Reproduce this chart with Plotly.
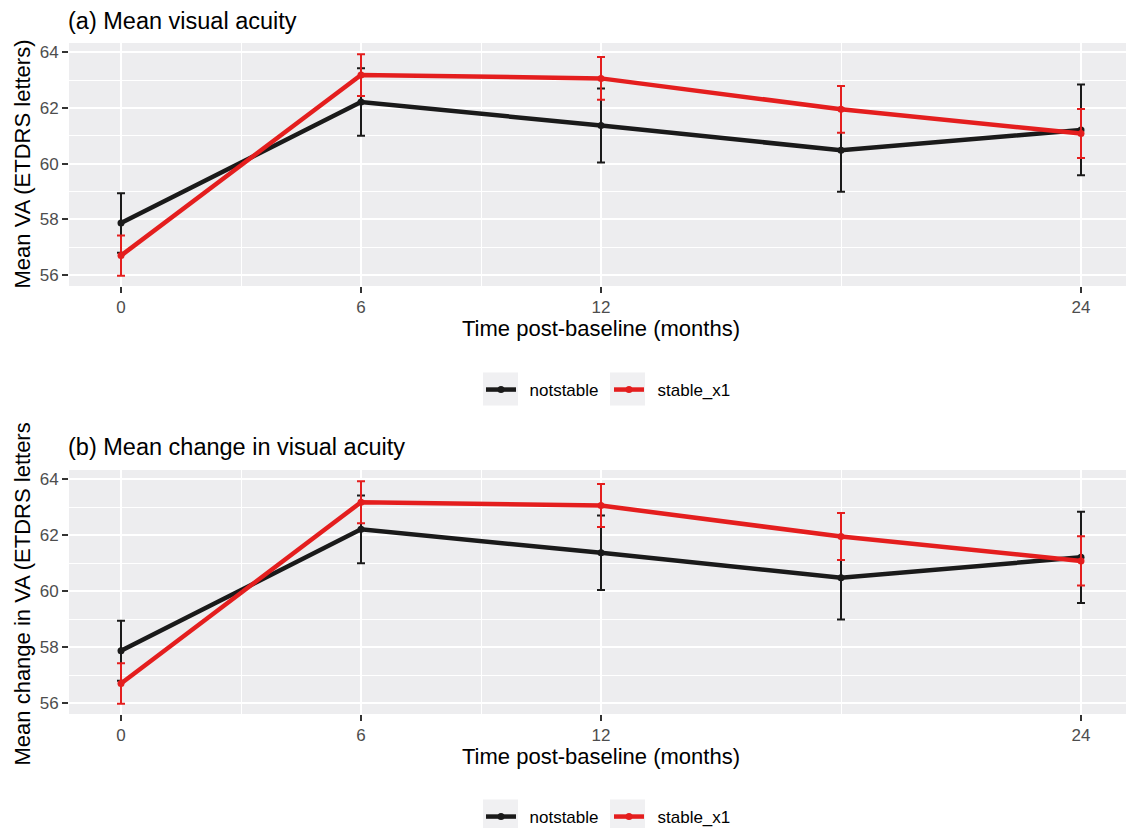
import plotly.graph_objects as go

# ---- data ----
months = [0, 6, 12, 18, 24]
notstable_mean = [57.87, 62.21, 61.37, 60.48, 61.21]
notstable_err = [1.07, 1.21, 1.33, 1.49, 1.63]
stable_mean = [56.70, 63.18, 63.06, 61.95, 61.08]
stable_err = [0.72, 0.75, 0.77, 0.84, 0.88]
series_names = ["notstable", "stable_x1"]
x_tick_vals = [0, 6, 12, 24]
x_minor_vals = [3, 9, 18]
y_tick_vals = [56, 58, 60, 62, 64]
y_minor_vals = [57, 59, 61, 63]
panel_titles = ["(a) Mean visual acuity", "(b) Mean change in visual acuity"]
y_titles = ["Mean VA (ETDRS letters)", "Mean change in VA (ETDRS letters"]
x_title = "Time post-baseline (months)"

W, H = 1126, 828
FONT = "Liberation Sans, Arial, Helvetica, sans-serif"
BLACK = "#1a1a1a"
RED = "#e41e1e"
PANEL_BG = "#ededef"

def px_x(p):
    return p / W

def px_y(p):
    return 1 - p / H

fig = go.Figure()

colors = [BLACK, RED]
means = [notstable_mean, stable_mean]
errs = [notstable_err, stable_err]

for panel in range(2):
    xa = "x" if panel == 0 else "x2"
    ya = "y" if panel == 0 else "y2"
    lg = "legend" if panel == 0 else "legend2"
    for name, col, m, e in zip(series_names, colors, means, errs):
        fig.add_trace(go.Scatter(
            x=months, y=m, name="\u2002" + name, mode="lines+markers",
            line=dict(color=col, width=4.5),
            marker=dict(color=col, size=7),
            error_y=dict(type="data", array=e, visible=True, color=col,
                         thickness=2, width=4),
            xaxis=xa, yaxis=ya, legend=lg, cliponaxis=False,
        ))

xdomain = [px_x(69), 1.0]
ydomains = [[px_y(286), px_y(43)], [px_y(714), px_y(470)]]

axis_common = dict(
    showline=False, zeroline=False,
    ticks="outside", ticklen=6, tickwidth=1.5, tickcolor="#333333",
    tickfont=dict(family=FONT, size=17, color="#4d4d4d"),
    showgrid=True, gridcolor="white", gridwidth=2,
)

layout = dict(
    width=W, height=H,
    margin=dict(l=0, r=0, t=0, b=0, autoexpand=False),
    paper_bgcolor="white", plot_bgcolor=PANEL_BG,
    font=dict(family=FONT, color="black"),
    showlegend=True,
)

for panel in range(2):
    sfx = "" if panel == 0 else "2"
    layout["xaxis" + sfx] = dict(
        axis_common, domain=xdomain, range=[-1.3, 25.125],
        tickmode="array", tickvals=x_tick_vals,
        ticktext=[str(v) for v in x_tick_vals],
        minor=dict(tickmode="array", tickvals=x_minor_vals, showgrid=True,
                   gridcolor="white", gridwidth=1, ticks=""),
        anchor="y" + sfx,
    )
    layout["yaxis" + sfx] = dict(
        axis_common, domain=ydomains[panel], range=[55.61, 64.33],
        tickmode="array", tickvals=y_tick_vals,
        ticktext=[str(v) for v in y_tick_vals],
        minor=dict(tickmode="array", tickvals=y_minor_vals, showgrid=True,
                   gridcolor="white", gridwidth=1, ticks=""),
        anchor="x" + sfx,
    )

legend_common = dict(
    orientation="h", xanchor="left", yanchor="middle",
    font=dict(family=FONT, size=17, color="black"),
    bgcolor="rgba(0,0,0,0)", borderwidth=0,
    itemwidth=30, entrywidth=83, entrywidthmode="pixels",
    itemclick=False, itemdoubleclick=False,
)
layout["legend"] = dict(legend_common, x=px_x(481), y=px_y(390))
layout["legend2"] = dict(legend_common, x=px_x(481), y=px_y(817))

fig.update_layout(**layout)

# titles and axis titles as annotations
tops = [21, 447]
xt_y = [328, 756]
for panel in range(2):
    fig.add_annotation(text=panel_titles[panel], xref="paper", yref="paper",
                       x=px_x(66), y=px_y(tops[panel]), xanchor="left",
                       yanchor="middle", showarrow=False,
                       font=dict(family=FONT, size=23.5, color="black"))
    fig.add_annotation(text=x_title, xref="paper", yref="paper",
                       x=px_x(601), y=px_y(xt_y[panel]), xanchor="center",
                       yanchor="middle", showarrow=False,
                       font=dict(family=FONT, size=22, color="black"))
fig.add_annotation(text=y_titles[0], xref="paper", yref="paper", textangle=-90,
                   x=px_x(22), y=px_y(164.5), xanchor="center", yanchor="middle",
                   showarrow=False, font=dict(family=FONT, size=22, color="black"))
fig.add_annotation(text=y_titles[1], xref="paper", yref="paper", textangle=-90,
                   x=px_x(22), y=px_y(768), xanchor="center", yanchor="bottom",
                   showarrow=False, font=dict(family=FONT, size=22, color="black"))

# grey legend key backgrounds (ggplot style)
for cy in [389, 816]:
    for x0 in [483, 610]:
        fig.add_shape(type="rect", xref="paper", yref="paper",
                      x0=px_x(x0), x1=px_x(x0 + 35), y0=px_y(cy + 16.5), y1=px_y(cy - 16.5),
                      fillcolor="#f0f0f2", line=dict(width=0), layer="below")

fig.write_html(
    "out.html",
    config={"displayModeBar": False},
    post_script="document.body.style.margin='0';document.body.style.overflow='hidden';",
)
